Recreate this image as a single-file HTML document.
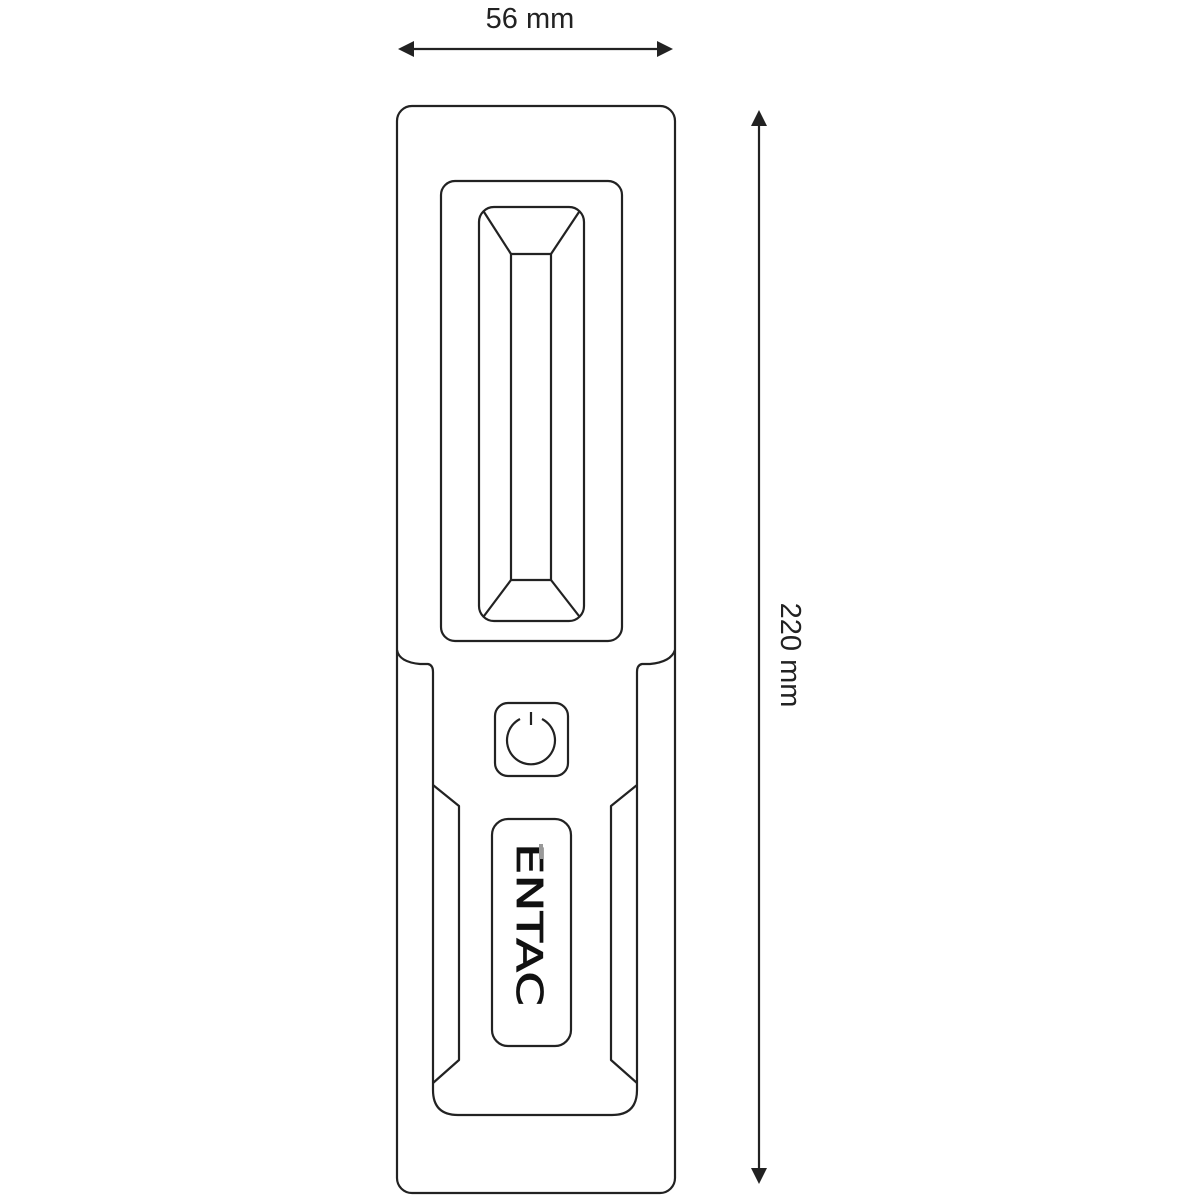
<!DOCTYPE html>
<html><head><meta charset="utf-8"><style>html,body{margin:0;padding:0;background:#fff}svg{display:block}</style></head><body>
<svg width="1200" height="1200" viewBox="0 0 1200 1200" xmlns="http://www.w3.org/2000/svg">
<g fill="none" stroke="#222" stroke-width="2.2" stroke-linejoin="round">
<rect x="397" y="106" width="278" height="1087" rx="15"/>
<path d="M397 650 Q399 662 420 664 L428 664 Q433 665 433 672 L433 1090 Q433 1115 458 1115 L612 1115 Q637 1115 637 1090 L637 672 Q637 665 642 664 L650 664 Q671 662 675 650"/>
<path d="M433 785 L459 806 L459 1060 L433 1083"/>
<path d="M637 785 L611 806 L611 1060 L637 1083"/>
<rect x="441" y="181" width="181" height="460" rx="14"/>
<rect x="479" y="207" width="105" height="414" rx="15"/>
<rect x="511" y="254" width="40" height="326"/>
<path d="M484 212 L511 254 M579 212 L551 254 M484 616 L511 580 M579 616 L551 580"/>
<rect x="495" y="703" width="73" height="73" rx="13"/>
<path d="M520 719 A24 24 0 1 0 542 719"/>
<path d="M531 712 L531 725"/>
<rect x="492" y="819" width="79" height="227" rx="16"/>
</g>
<text x="0" y="0" transform="translate(517,843) rotate(90)" font-family="'DejaVu Sans',sans-serif" font-size="36" fill="#111" stroke="#111" stroke-width="0.8" textLength="163" lengthAdjust="spacingAndGlyphs">ENTAC</text>
<rect x="539" y="844" width="4" height="15" fill="#999"/>
<g stroke="#222" stroke-width="2.2"><path d="M410 49 L661 49"/><path d="M759 122 L759 1172"/></g>
<g fill="#222">
<path d="M398 49 L414 41 L414 57 Z"/><path d="M673 49 L657 41 L657 57 Z"/>
<path d="M759 110 L751 126 L767 126 Z"/><path d="M759 1184 L751 1168 L767 1168 Z"/>
</g>
<text x="530" y="28" text-anchor="middle" font-family="'Liberation Sans',sans-serif" font-size="29" fill="#222">56 mm</text>
<text x="0" y="0" transform="translate(781,655) rotate(90)" text-anchor="middle" font-family="'Liberation Sans',sans-serif" font-size="29" fill="#222">220 mm</text>
</svg>
</body></html>
